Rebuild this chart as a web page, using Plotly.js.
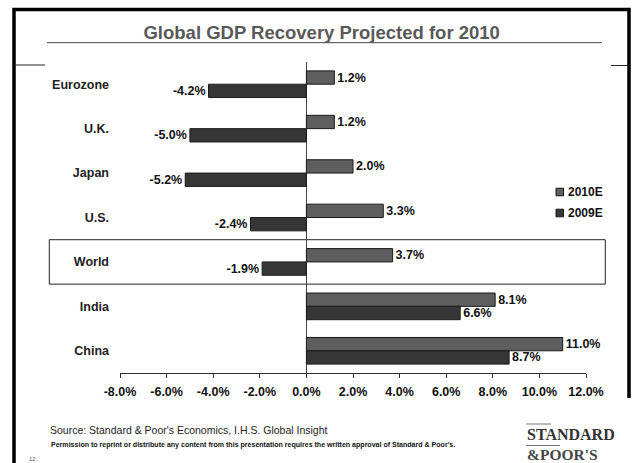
<!DOCTYPE html>
<html>
<head>
<meta charset="utf-8">
<script src="https://cdn.plot.ly/plotly-3.0.1.min.js"></script>
<style>
  html, body { margin: 0; padding: 0; background: #fff; }
  #chart { width: 632px; height: 463px; }
</style>
</head>
<body>
<div id="chart"></div>
<script>
// ---- Data ----
const categories = ["Eurozone", "U.K.", "Japan", "U.S.", "World", "India", "China"];
const seriesNames = ["2010E", "2009E"];
const values2010E = [1.2, 1.2, 2.0, 3.3, 3.7, 8.1, 11.0];
const values2009E = [-4.2, -5.0, -5.2, -2.4, -1.9, 6.6, 8.7];
const tickValues = [-8, -6, -4, -2, 0, 2, 4, 6, 8, 10, 12];
const tickLabels = ["-8.0%", "-6.0%", "-4.0%", "-2.0%", "0.0%", "2.0%", "4.0%", "6.0%", "8.0%", "10.0%", "12.0%"];
const highlightCategory = "World";
const titleText = "Global GDP Recovery Projected for 2010";
const sourceText = "Source: Standard &amp; Poor's Economics, I.H.S. Global Insight";
const permissionText = "Permission to reprint or distribute any content from this presentation requires the written approval of Standard &amp; Poor's.";
const pageNumber = "12.";

// ---- Styling ----
const W = 632, H = 463;
const M = { l: 120, r: 46, t: 62, b: 90 };
const PW = W - M.l - M.r, PH = H - M.t - M.b;
const px = x => (x - M.l) / PW;            // pixel -> paper x
const py = y => (H - M.b - y) / PH;        // pixel -> paper y
const colors = ["#5e5e5e", "#363636"];
const FONT = "Liberation Sans, Arial, Helvetica, sans-serif";
const fmt = v => v.toFixed(1) + "%";

const seriesValues = [values2010E, values2009E];
const traces = seriesValues.map((vals, i) => ({
  type: "bar",
  orientation: "h",
  name: seriesNames[i],
  y: categories,
  x: vals,
  text: vals.map(fmt),
  textposition: "outside",
  constraintext: "none",
  cliponaxis: false,
  textfont: { family: FONT, size: 12.5, color: "#111", weight: "bold" },
  marker: { color: colors[i], line: { color: "#1a1a1a", width: 1 } },
  hoverinfo: "skip"
}));

const shapes = [];
const annotations = [];
const line = (x0, y0, x1, y1, color, width) => shapes.push({
  type: "line", xref: "paper", yref: "paper",
  x0: px(x0), y0: py(y0), x1: px(x1), y1: py(y1),
  line: { color: color, width: width }, layer: "above"
});

// slide frame (one open path)
shapes.push({
  type: "path", xref: "paper", yref: "paper",
  path: "M" + px(14) + "," + py(463) + " L" + px(14) + "," + py(9.5) +
        " L" + px(629) + "," + py(9.5) + " L" + px(629) + "," + py(398),
  line: { color: "#000", width: 3.5 }, fillcolor: "rgba(0,0,0,0)", layer: "above"
});
line(14, 65, 45, 65, "#222", 1);
line(611, 65.5, 628, 65.5, "#222", 1);
// title underline
line(47, 42.7, 602, 42.7, "#444", 1);

// highlight box around World
const hi = categories.indexOf(highlightCategory);
shapes.push({
  type: "rect", xref: "paper", yref: "y",
  x0: px(49.3), x1: px(605.3), y0: hi - 0.5, y1: hi + 0.5,
  line: { color: "#222", width: 1 }, fillcolor: "rgba(0,0,0,0)", layer: "below"
});

// legend (custom)
seriesNames.forEach((name, i) => {
  const cy = 192 + i * 21;
  shapes.push({
    type: "rect", xref: "paper", yref: "paper",
    x0: px(556), x1: px(563.5), y0: py(cy + 3.8), y1: py(cy - 3.8),
    fillcolor: colors[i], line: { color: "#1a1a1a", width: 1 }, layer: "above"
  });
  annotations.push({
    xref: "paper", yref: "paper", x: px(566), y: py(cy), xanchor: "left", yanchor: "middle",
    text: name, showarrow: false,
    font: { family: FONT, size: 12, color: "#111", weight: "bold" }
  });
});

// footer
annotations.push({
  xref: "paper", yref: "paper", x: px(48), y: py(429.5), xanchor: "left", yanchor: "middle",
  text: sourceText, showarrow: false, font: { family: FONT, size: 10.5, color: "#222" }
});
annotations.push({
  xref: "paper", yref: "paper", x: px(48.5), y: py(444.5), xanchor: "left", yanchor: "middle",
  text: permissionText, showarrow: false, font: { family: FONT, size: 7.05, color: "#111", weight: "bold" }
});
annotations.push({
  xref: "paper", yref: "paper", x: px(26.5), y: py(459), xanchor: "left", yanchor: "middle",
  text: pageNumber, showarrow: false, font: { family: FONT, size: 6, color: "#555" }
});
// logo
const SERIF = "Liberation Serif, Times New Roman, serif";
line(526, 424, 551, 424, "#777", 1);
line(526, 445.5, 560, 445.5, "#777", 1);
annotations.push({
  xref: "paper", yref: "paper", x: px(525), y: py(434.5), xanchor: "left", yanchor: "middle",
  text: "STANDARD", showarrow: false, font: { family: SERIF, size: 16, color: "#333", weight: "bold" }
});
annotations.push({
  xref: "paper", yref: "paper", x: px(525), y: py(454.5), xanchor: "left", yanchor: "middle",
  text: "&amp;POOR'S", showarrow: false, font: { family: SERIF, size: 15.5, color: "#444", weight: "bold" }
});

const layout = {
  width: W, height: H,
  margin: M,
  paper_bgcolor: "#fff", plot_bgcolor: "#fff",
  showlegend: false,
  barmode: "group",
  bargap: 0.4, bargroupgap: 0,
  title: {
    text: titleText, xref: "paper", x: px(321.7), xanchor: "center",
    yref: "container", y: 1 - 33 / H, yanchor: "middle",
    font: { family: FONT, size: 18.5, color: "#595959", weight: "bold" }
  },
  xaxis: {
    range: [-8, 12], tickvals: tickValues, ticktext: tickLabels,
    showgrid: false, zeroline: true, zerolinecolor: "#444", zerolinewidth: 1,
    showline: true, linecolor: "#333", linewidth: 1,
    ticks: "outside", ticklen: 4, tickcolor: "#333",
    ticklabelstandoff: 3,
    tickfont: { family: FONT, size: 12.5, color: "#111", weight: "bold" },
    fixedrange: true
  },
  yaxis: {
    type: "category", autorange: "reversed",
    showgrid: false, zeroline: false, showline: false, ticks: "",
    ticklabelstandoff: 10,
    tickfont: { family: FONT, size: 12.5, color: "#222", weight: "bold" },
    fixedrange: true
  },
  shapes: shapes,
  annotations: annotations,
  font: { family: FONT }
};

Plotly.newPlot("chart", traces, layout, { staticPlot: true, displayModeBar: false });
</script>
</body>
</html>
